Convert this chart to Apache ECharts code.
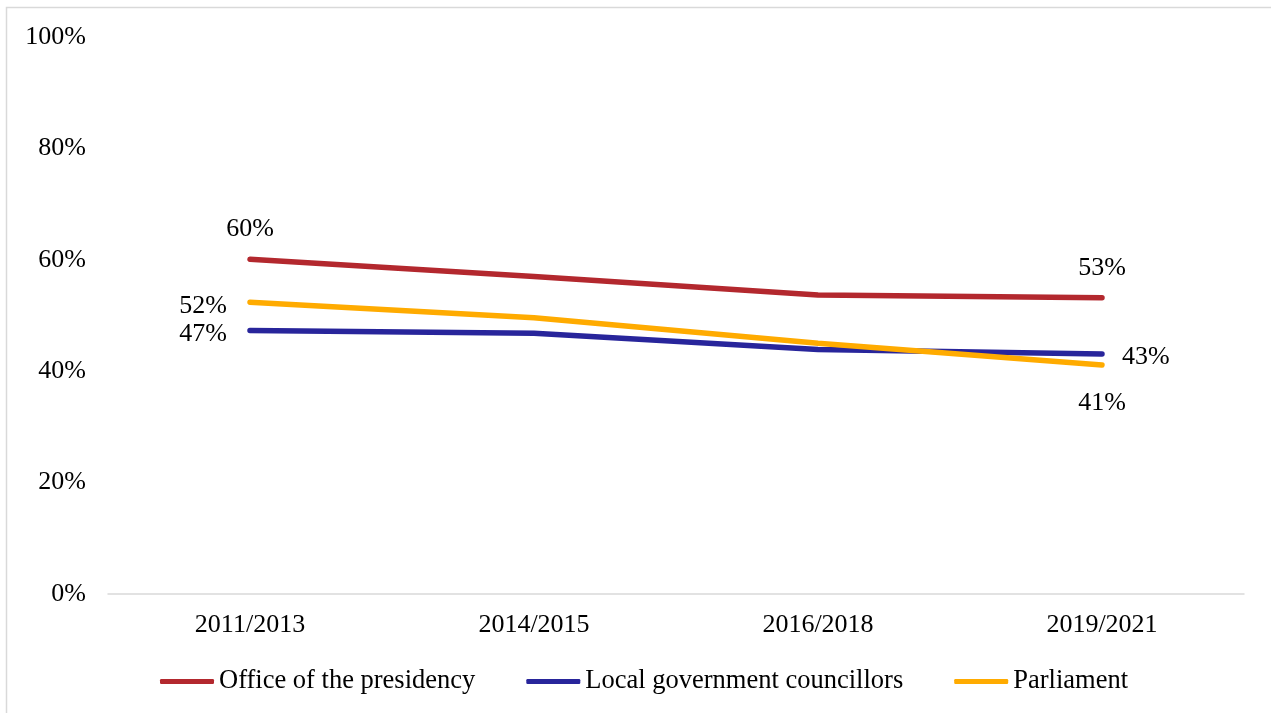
<!DOCTYPE html>
<html>
<head>
<meta charset="utf-8">
<style>
  html, body { margin: 0; padding: 0; background: #fff; }
  #chart { width: 1271px; height: 713px; }
</style>
<script src="https://cdn.jsdelivr.net/npm/echarts@6/dist/echarts.min.js"></script>
</head>
<body>
<div id="chart"></div>
<script>
// Survey periods
const periods = ['2011/2013', '2014/2015', '2016/2018', '2019/2021'];

// Share of respondents (%) per institution
const presidency = [60.1, 57.0, 53.7, 53.2];
const councillors = [47.3, 46.8, 43.9, 43.1];
const parliament = [52.4, 49.6, 45.0, 41.1];

// Y-axis ticks
const yMin = 0, yMax = 100, yStep = 20;

const FONT = 'Liberation Serif';
const TXT = '#000000';

function pct(v) { return Math.round(v) + '%'; }

// Only the first and last points carry a value label
function endLabels(values, first, last) {
  return values.map((v, i) => {
    const item = { value: v };
    if (i === 0 || i === values.length - 1) {
      const cfg = i === 0 ? first : last;
      item.label = {
        show: true,
        position: cfg.pos,
        distance: cfg.dist,
        offset: cfg.offset || [0, 0],
        formatter: p => pct(p.value),
        fontFamily: FONT,
        fontSize: 26,
        color: TXT
      };
    }
    return item;
  });
}

function lineSeries(name, color, data) {
  return {
    name: name,
    type: 'line',
    data: data,
    symbol: 'circle',
    symbolSize: 0.01,
    showSymbol: true,
    smooth: false,
    lineStyle: { color: color, width: 5.5, cap: 'round' },
    itemStyle: { color: color },
    label: { show: false },
    emphasis: { disabled: true }
  };
}

const chart = echarts.init(document.getElementById('chart'), null, { renderer: 'canvas' });

chart.setOption({
  animation: false,
  backgroundColor: '#ffffff',
  graphic: [{
    type: 'rect',
    shape: { x: 6.5, y: 7.5, width: 1400, height: 900 },
    style: { fill: 'none', stroke: '#d9d9d9', lineWidth: 1.5 },
    silent: true
  }],
  grid: { left: 108, right: 27, top: 37, bottom: 119, containLabel: false },
  legend: {
    left: 155,
    top: 663,
    icon: 'roundRect',
    itemWidth: 54,
    itemHeight: 5,
    itemGap: 51,
    textStyle: { fontFamily: FONT, fontSize: 26.5, color: TXT },
    data: ['Office of the presidency', 'Local government councillors', 'Parliament']
  },
  xAxis: {
    type: 'category',
    data: periods,
    boundaryGap: true,
    axisLine: { show: true, lineStyle: { color: '#d9d9d9', width: 1.5 } },
    axisTick: { show: false },
    axisLabel: { fontFamily: FONT, fontSize: 26, color: TXT, margin: 18 },
    splitLine: { show: false }
  },
  yAxis: {
    type: 'value',
    min: yMin,
    max: yMax,
    interval: yStep,
    axisLine: { show: false },
    axisTick: { show: false },
    splitLine: { show: false },
    axisLabel: { fontFamily: FONT, fontSize: 26, color: TXT, margin: 22, formatter: v => v + '%' }
  },
  series: [
    lineSeries('Office of the presidency', '#b3282e',
      endLabels(presidency, { pos: 'top', dist: 17 }, { pos: 'top', dist: 16 })),
    lineSeries('Local government councillors', '#28259b',
      endLabels(councillors, { pos: 'left', dist: 23, offset: [0, 4] }, { pos: 'right', dist: 20, offset: [0, 3] })),
    lineSeries('Parliament', '#ffab00',
      endLabels(parliament, { pos: 'left', dist: 23, offset: [0, 4] }, { pos: 'bottom', dist: 25 }))
  ]
});
</script>
</body>
</html>
